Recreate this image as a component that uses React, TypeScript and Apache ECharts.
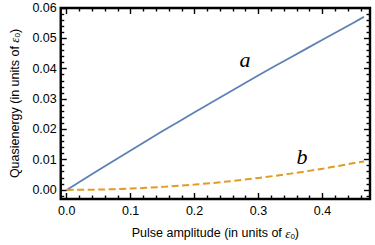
import React, { useEffect, useRef } from "react";
import * as echarts from "echarts";

const xValues = [0, 0.05, 0.1, 0.15, 0.2, 0.25, 0.3, 0.35, 0.4, 0.45, 0.465];
const seriesA = [0, 0.0066, 0.0130, 0.0194, 0.0256, 0.0317, 0.0378, 0.0437, 0.0495, 0.0553, 0.0571];
const seriesB = [0, 0.00011, 0.00044, 0.001, 0.00176, 0.00274, 0.00394, 0.00537, 0.007, 0.00885, 0.0094];

const xMajor = [0, 0.1, 0.2, 0.3, 0.4];
const xMinor = [0.02, 0.04, 0.06, 0.08, 0.12, 0.14, 0.16, 0.18, 0.22, 0.24, 0.26, 0.28, 0.32, 0.34, 0.36, 0.38, 0.42, 0.44, 0.46];
const yMajor = [0, 0.01, 0.02, 0.03, 0.04, 0.05, 0.06];
const yMinor = [-0.002, 0.002, 0.004, 0.006, 0.008, 0.012, 0.014, 0.016, 0.018, 0.022, 0.024, 0.026, 0.028, 0.032, 0.034, 0.036, 0.038, 0.042, 0.044, 0.046, 0.048, 0.052, 0.054, 0.056, 0.058];

const xLabel = "Pulse amplitude (in units of ";
const yLabel = "Quasienergy (in units of ";

const X_MIN = -0.0093;
const X_MAX = 0.4743;
const Y_MIN = -0.003;
const Y_MAX = 0.06;

const FONT = "Liberation Sans";

export default function App() {
  const ref = useRef<HTMLDivElement>(null);
  useEffect(() => {
    if (!ref.current) return;
    const chart = echarts.init(ref.current, undefined, { renderer: "svg" });
    const rich = {
      n: { fontFamily: FONT, fontSize: 12.5, color: "#000" },
      e: { fontFamily: "Liberation Serif", fontStyle: "italic", fontSize: 13, color: "#000" },
      s: { fontFamily: FONT, fontSize: 8, color: "#000", verticalAlign: "bottom", padding: [6, 0, 0, 0] },
    };
    const mkX = (pos: string, major: boolean, main: boolean) => ({
      type: "value",
      position: pos,
      min: X_MIN,
      max: X_MAX,
      axisLine: { show: false, onZero: false },
      axisTick: {
        show: true,
        inside: true,
        length: major ? 6 : 3.5,
        lineStyle: { color: "#000", width: 1.4 },
        customValues: major ? xMajor : xMinor,
      },
      axisLabel: main
        ? {
            show: true,
            customValues: xMajor,
            formatter: (v: number) => v.toFixed(1),
            fontFamily: FONT,
            fontSize: 12.5,
            color: "#000",
            margin: 5,
          }
        : { show: false },
      splitLine: { show: false },
      name: main ? `{n|${xLabel}}{e|ε}{s|0}{n|)}` : "",
      nameLocation: "middle",
      nameGap: 27,
      nameTextStyle: { rich },
    });
    const mkY = (pos: string, major: boolean, main: boolean) => ({
      type: "value",
      position: pos,
      min: Y_MIN,
      max: Y_MAX,
      axisLine: { show: false, onZero: false },
      axisTick: {
        show: true,
        inside: true,
        length: major ? 6 : 3.5,
        lineStyle: { color: "#000", width: 1.4 },
        customValues: major ? yMajor : yMinor,
      },
      axisLabel: main
        ? {
            show: true,
            customValues: yMajor,
            formatter: (v: number) => v.toFixed(2),
            fontFamily: FONT,
            fontSize: 12.5,
            color: "#000",
            margin: 4,
          }
        : { show: false },
      splitLine: { show: false },
      name: main ? `{n|${yLabel}}{e|ε}{s|0}{n|)}` : "",
      nameLocation: "middle",
      nameRotate: 90,
      nameGap: 36,
      nameTextStyle: { rich },
    });
    chart.setOption({
      animation: false,
      grid: { left: 54, right: 5, top: 8, bottom: 44, show: true, borderColor: "#000", borderWidth: 2.4, backgroundColor: "transparent" },
      xAxis: [mkX("bottom", true, true), mkX("bottom", false, false), mkX("top", true, false), mkX("top", false, false)],
      yAxis: [mkY("left", true, true), mkY("left", false, false), mkY("right", true, false), mkY("right", false, false)],
      series: [
        {
          type: "line",
          xAxisIndex: 0,
          yAxisIndex: 0,
          data: xValues.map((x, i) => [x, seriesA[i]]),
          showSymbol: false,
          smooth: 0.2,
          lineStyle: { color: "#5E81B5", width: 1.8 },
        },
        {
          type: "line",
          xAxisIndex: 0,
          yAxisIndex: 0,
          data: xValues.map((x, i) => [x, seriesB[i]]),
          showSymbol: false,
          smooth: 0.3,
          lineStyle: { color: "#E19C24", width: 2, type: [7, 3.5] },
        },
      ],
      graphic: [
        { type: "text", x: 245, y: 59, style: { text: "a", font: "italic 22px 'Liberation Serif'", fill: "#000", align: "center", verticalAlign: "middle" } },
        { type: "text", x: 302, y: 156, style: { text: "b", font: "italic 22px 'Liberation Serif'", fill: "#000", align: "center", verticalAlign: "middle" } },
      ],
    });
    return () => chart.dispose();
  }, []);
  return <div ref={ref} style={{ width: 375, height: 245, position: "absolute", left: 0, top: 0 }} />;
}
